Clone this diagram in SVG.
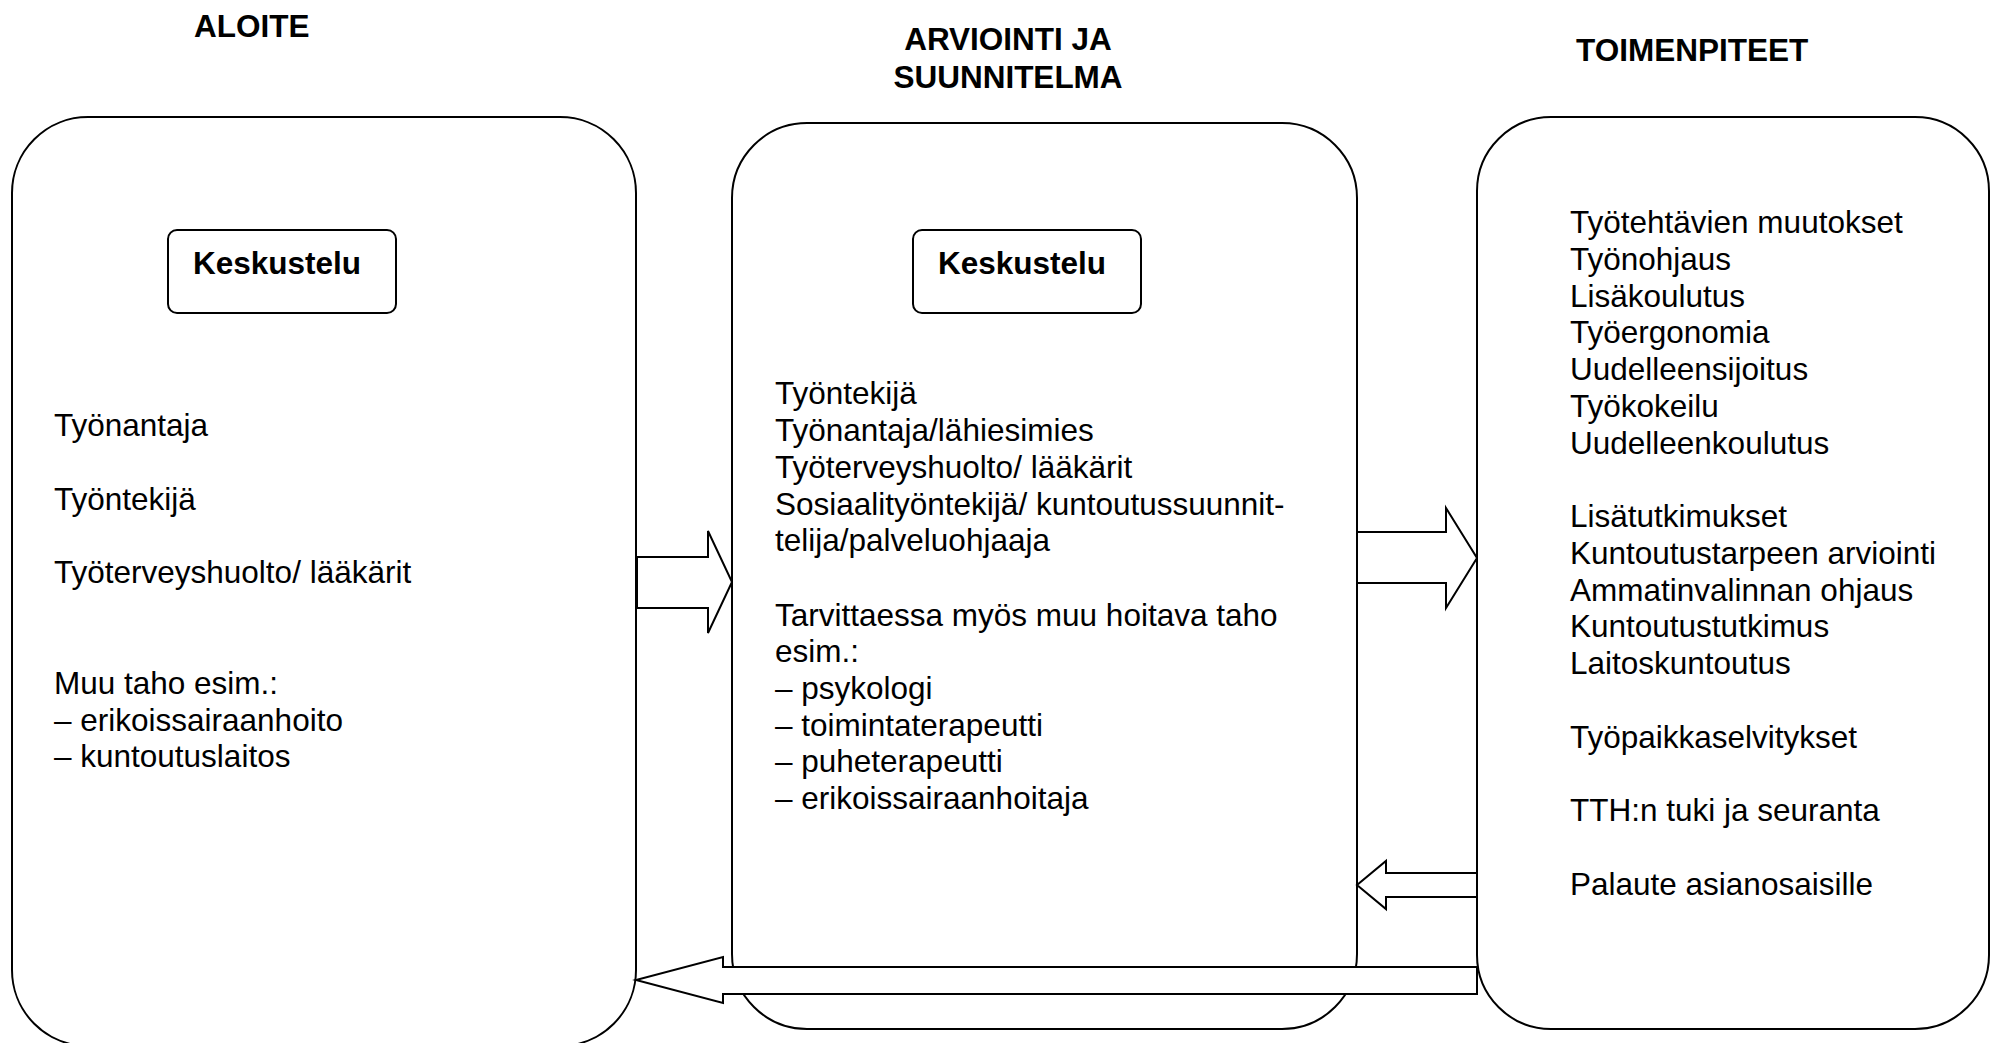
<svg xmlns="http://www.w3.org/2000/svg" width="1991" height="1043" viewBox="0 0 1991 1043">
<style>
.box{fill:#fff;stroke:#000;stroke-width:2}
.kbox{fill:#fff;stroke:#000;stroke-width:2}
.arrow{fill:#fff;stroke:#000;stroke-width:2;stroke-linejoin:miter}
text{font-family:"Liberation Sans",Arial,sans-serif;font-size:31.5px;fill:#000}
.h{font-weight:bold}
</style>
<rect width="1991" height="1043" fill="#fff"/>
<g id="header-aloite"><text class="h" x="194" y="37">ALOITE</text></g>
<g id="header-arviointi"><text class="h" x="1008" y="50" text-anchor="middle">ARVIOINTI JA</text><text class="h" x="1008" y="88" text-anchor="middle">SUUNNITELMA</text></g>
<g id="header-toimenpiteet"><text class="h" x="1576" y="61">TOIMENPITEET</text></g>

<g id="aloite">
<rect class="box" x="12" y="117" width="624" height="929" rx="76" ry="76"/>
<g id="aloite-keskustelu"><rect class="kbox" x="168" y="230" width="228" height="83" rx="9"/><text class="h" x="193" y="274">Keskustelu</text></g>
<text x="54" y="436">Työnantaja</text>
<text x="54" y="510">Työntekijä</text>
<text x="54" y="583">Työterveyshuolto/ lääkärit</text>
<text x="54" y="694">Muu taho esim.:</text>
<text x="54" y="731">– erikoissairaanhoito</text>
<text x="54" y="767">– kuntoutuslaitos</text>
</g>

<g id="arviointi">
<rect class="box" x="732" y="123" width="625" height="906" rx="75" ry="75"/>
<g id="arviointi-keskustelu"><rect class="kbox" x="913" y="230" width="228" height="83" rx="9"/><text class="h" x="938" y="274">Keskustelu</text></g>
<text x="775" y="404">Työntekijä</text>
<text x="775" y="441">Työnantaja/lähiesimies</text>
<text x="775" y="478">Työterveyshuolto/ lääkärit</text>
<text x="775" y="515">Sosiaalityöntekijä/ kuntoutussuunnit-</text>
<text x="775" y="551">telija/palveluohjaaja</text>
<text x="775" y="626">Tarvittaessa myös muu hoitava taho</text>
<text x="775" y="662">esim.:</text>
<text x="775" y="699">– psykologi</text>
<text x="775" y="736">– toimintaterapeutti</text>
<text x="775" y="772">– puheterapeutti</text>
<text x="775" y="809">– erikoissairaanhoitaja</text>
</g>

<g id="toimenpiteet">
<rect class="box" x="1477" y="117" width="512" height="912" rx="74" ry="74"/>
<text x="1570" y="233">Työtehtävien muutokset</text>
<text x="1570" y="270">Työnohjaus</text>
<text x="1570" y="307">Lisäkoulutus</text>
<text x="1570" y="343">Työergonomia</text>
<text x="1570" y="380">Uudelleensijoitus</text>
<text x="1570" y="417">Työkokeilu</text>
<text x="1570" y="454">Uudelleenkoulutus</text>
<text x="1570" y="527">Lisätutkimukset</text>
<text x="1570" y="564">Kuntoutustarpeen arviointi</text>
<text x="1570" y="601">Ammatinvalinnan ohjaus</text>
<text x="1570" y="637">Kuntoutustutkimus</text>
<text x="1570" y="674">Laitoskuntoutus</text>
<text x="1570" y="748">Työpaikkaselvitykset</text>
<text x="1570" y="821">TTH:n tuki ja seuranta</text>
<text x="1570" y="895">Palaute asianosaisille</text>
</g>

<g id="connectors">
<polygon class="arrow" points="637,557 708,557 708,531 732,582 708,633 708,608 637,608"/>
<polygon class="arrow" points="1357,532 1446,532 1446,508 1477,558 1446,608 1446,583 1357,583"/>
<polygon class="arrow" points="1477,873 1386,873 1386,861 1357,885 1386,909 1386,897 1477,897"/>
<polygon class="arrow" points="1477,967 723,967 723,957 636,980 723,1003 723,994 1477,994"/>
</g>
</svg>
